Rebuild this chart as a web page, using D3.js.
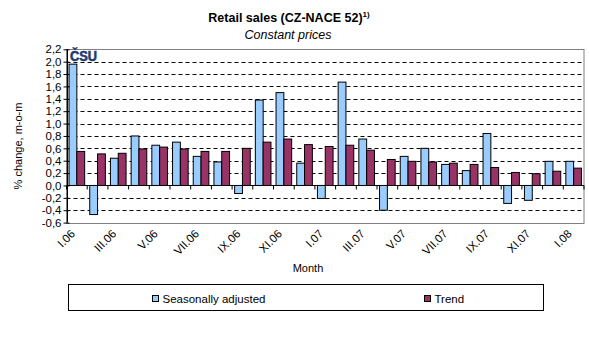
<!DOCTYPE html>
<html><head><meta charset="utf-8">
<script src="https://cdn.jsdelivr.net/npm/d3@7"></script>
<style>
body{margin:0;background:#fff;}
svg text{font-family:"Liberation Sans",Arial,sans-serif;}
</style></head>
<body><svg id="c" width="589" height="360"></svg>
<script>
const months = ["I.06","II.06","III.06","IV.06","V.06","VI.06","VII.06","VIII.06","IX.06","X.06","XI.06","XII.06",
  "I.07","II.07","III.07","IV.07","V.07","VI.07","VII.07","VIII.07","IX.07","X.07","XI.07","XII.07","I.08"];
const seasonallyAdjusted = [1.96,-0.47,0.44,0.80,0.65,0.70,0.47,0.38,-0.13,1.38,1.50,0.36,
  -0.21,1.67,0.75,-0.40,0.47,0.60,0.34,0.24,0.84,-0.29,-0.24,0.39,0.39];
const trend = [0.55,0.51,0.52,0.59,0.62,0.59,0.55,0.55,0.60,0.70,0.75,0.66,
  0.63,0.65,0.57,0.42,0.39,0.38,0.36,0.34,0.29,0.21,0.19,0.23,0.28];
const yTicks = [-0.6,-0.4,-0.2,0,0.2,0.4,0.6,0.8,1.0,1.2,1.4,1.6,1.8,2.0,2.2];
const seriesNames = ["Seasonally adjusted","Trend"];
const colors = ["#99CCFF","#993366"];

const svg = d3.select("#c");
const L=66.5, R=584, T=49.3, B=222.6;
const x = d3.scaleBand().domain(months).range([L,R]).paddingInner(0).paddingOuter(0);
const y = d3.scaleLinear().domain([-0.6,2.2]).range([B,T]);
const groupPad = 0.195;
const x1 = d3.scaleBand().domain([0,1]).range([0,x.bandwidth()]).paddingOuter(groupPad/0.6).paddingInner(0);
const fmt = v => d3.format(".1f")(v).replace(".",",").replace("−","-");

// gridlines
svg.append("g").selectAll("line").data(yTicks.filter(v=>v!==0 && v>-0.6 && v<2.2)).join("line")
  .attr("x1",L).attr("x2",R).attr("y1",d=>Math.round(y(d))+0.5).attr("y2",d=>Math.round(y(d))+0.5)
  .attr("stroke","#000").attr("stroke-dasharray","4,3").attr("stroke-width",1);
// frame
svg.append("rect").attr("x",L).attr("y",Math.round(T)+0.5).attr("width",R-L).attr("height",Math.round(B)-Math.round(T))
  .attr("fill","none").attr("stroke","#808080");

// bars
const data = months.map((m,i)=>({m, v:[seasonallyAdjusted[i],trend[i]]}));
const g = svg.append("g");
data.forEach(d=>{
  d.v.forEach((v,k)=>{
    g.append("rect")
      .attr("x",x(d.m)+x1(k)).attr("width",x1.bandwidth())
      .attr("y",y(Math.max(0,v))).attr("height",Math.abs(y(v)-y(0)))
      .attr("fill",colors[k]).attr("stroke","#000").attr("stroke-width",1);
  });
});

// zero axis line with ticks
const zx = d3.axisBottom(x).tickSize(4).tickFormat("");
const zeroAx = svg.append("g").attr("transform",`translate(0,${Math.round(y(0))+0.5})`).call(zx);
zeroAx.select(".domain").attr("stroke","#000").attr("d",`M${L},0H${R}`);
zeroAx.selectAll(".tick line").attr("stroke","#000")
  .attr("transform",`translate(${-x.bandwidth()/2},0)`);
zeroAx.append("line").attr("x1",R).attr("x2",R).attr("y1",0).attr("y2",4).attr("stroke","#000");

// y axis
const ya = d3.axisLeft(y).tickValues(yTicks).tickSize(4).tickPadding(2).tickFormat(fmt);
const yg = svg.append("g").attr("transform",`translate(${Math.round(L)+0.5},0)`).call(ya);
yg.select(".domain").attr("stroke","#000").attr("d",`M0,${T}V${B}`);
yg.selectAll(".tick line").attr("stroke","#000").attr("x1",2);
yg.selectAll(".tick text").attr("font-size","11.5px").attr("fill","#000");

// x labels (every other month)
svg.append("g").selectAll("text").data(months.filter((m,i)=>i%2===0)).join("text")
  .attr("transform",d=>`translate(${x(d)+x.bandwidth()/2-4},${B+9}) rotate(-45)`)
  .attr("text-anchor","end").attr("dy","0.35em").attr("font-size","11.5px").attr("fill","#000").text(d=>d);

// titles
const t = svg.append("text").attr("x",289).attr("y",22).attr("text-anchor","middle")
  .attr("font-size","12.5px").attr("font-weight","bold");
t.append("tspan").text("Retail sales (CZ-NACE 52)");
t.append("tspan").attr("dy","-5").attr("font-size","8px").text("1)");
svg.append("text").attr("x",288).attr("y",39).attr("text-anchor","middle").attr("font-size","12.5px")
  .attr("font-style","italic").text("Constant prices");
svg.append("text").attr("transform","translate(22,146) rotate(-90)").attr("text-anchor","middle")
  .attr("font-size","11px").text("% change, m-o-m");
svg.append("text").attr("x",308).attr("y",272).attr("text-anchor","middle").attr("font-size","11px").text("Month");

// logo
svg.append("text").attr("x",70).attr("y",60.5).attr("font-size","14px").attr("font-weight","bold")
  .attr("fill","#1f3c73").attr("stroke","#1f3c73").attr("stroke-width",0.6)
  .attr("textLength",27).attr("lengthAdjust","spacingAndGlyphs").text("ČSU");

// legend
svg.append("rect").attr("x",68.5).attr("y",284.5).attr("width",475).attr("height",26).attr("fill","#fff").attr("stroke","#000");
const legX=[152.5,424.5];
seriesNames.forEach((n,k)=>{
  svg.append("rect").attr("x",legX[k]).attr("y",295.5).attr("width",6).attr("height",6)
    .attr("fill",colors[k]).attr("stroke","#000");
  svg.append("text").attr("x",legX[k]+10).attr("y",302.5).attr("font-size","11.5px").text(n);
});
</script></body></html>
